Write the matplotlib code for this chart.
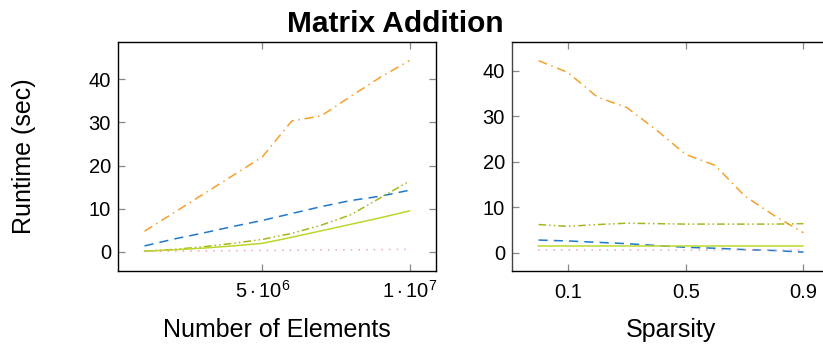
"""Matrix addition runtime vs. size and sparsity."""

import matplotlib

matplotlib.use("Agg")
import matplotlib.pyplot as plt

plt.rcParams["font.family"] = ["Liberation Sans", "DejaVu Sans"]
plt.rcParams["mathtext.fontset"] = "custom"
plt.rcParams["mathtext.rm"] = "Liberation Sans"
plt.rcParams["mathtext.it"] = "Liberation Sans:italic"

# left panel: runtime vs number of elements
n_elements = [1e6, 2e6, 3e6, 4e6, 5e6, 6e6, 7e6, 8e6, 9e6, 1e7]
size_ticks = [5e6, 1e7]
size_tick_labels = [r"$5\cdot10^{6}$", r"$1\cdot10^{7}$"]
size_orange = [4.8, 9.1, 13.4, 17.7, 22.0, 30.3, 31.5, 36.0, 40.4, 44.3]
size_blue = [1.4, 3.0, 4.4, 5.9, 7.3, 8.9, 10.5, 11.9, 12.9, 14.3]
size_olive = [0.2, 0.6, 1.2, 2.0, 2.9, 4.3, 6.2, 8.6, 12.5, 16.4]
size_green = [0.2, 0.5, 0.9, 1.4, 2.0, 3.4, 4.9, 6.4, 7.9, 9.5]
size_pink = [0.15, 0.2, 0.25, 0.3, 0.35, 0.4, 0.45, 0.5, 0.55, 0.6]

# right panel: runtime vs sparsity
sparsity = [0.0, 0.1, 0.2, 0.3, 0.4, 0.5, 0.6, 0.7, 0.8, 0.9]
sparsity_ticks = [0.1, 0.5, 0.9]
sparsity_tick_labels = ["0.1", "0.5", "0.9"]
sp_orange = [42.2, 39.6, 34.2, 31.9, 27.0, 21.6, 19.2, 12.5, 8.2, 4.4]
sp_blue = [2.8, 2.6, 2.3, 2.0, 1.6, 1.2, 1.0, 0.7, 0.5, 0.15]
sp_olive = [6.2, 5.8, 6.2, 6.5, 6.4, 6.3, 6.3, 6.3, 6.3, 6.4]
sp_green = [1.5, 1.5, 1.5, 1.5, 1.5, 1.5, 1.5, 1.5, 1.5, 1.5]
sp_pink = [0.6, 0.6, 0.6, 0.6, 0.6, 0.6, 0.6, 0.6, 0.6, 0.6]

y_ticks = [0, 10, 20, 30, 40]

styles = [
    ("#f5a02a", (0, (6, 3, 1, 3))),
    ("#1f78cc", (0, (6, 4))),
    ("#a9b51e", (0, (5, 2, 1, 2, 1, 2))),
    ("#bcd72a", "-"),
    ("#f2a0b4", (0, (1, 4))),
]


def style_axis(ax, xticks, xlabels, xlabel):
    ax.tick_params(direction="in", length=5, width=0.9, color="#888888",
                   top=True, right=True, labelsize=14.5)
    ax.tick_params(axis="x", pad=19.5)
    ax.tick_params(axis="y", pad=5)
    for spine in ax.spines.values():
        spine.set_linewidth(1.0)
    ax.set_yticks(y_ticks)
    ax.set_xticks(xticks)
    ax.set_xticklabels(xlabels, va="baseline")
    ax.set_xlabel(xlabel, fontsize=18, va="baseline")
    ax.xaxis.set_label_coords(0.5, -0.288)


fig = plt.figure(figsize=(8.23, 3.45), dpi=100)
ax1 = fig.add_axes([0.1434, 0.2145, 0.3864, 0.6638])
ax2 = fig.add_axes([0.6221, 0.2145, 0.3864, 0.6638])

left_series = [size_orange, size_blue, size_olive, size_green, size_pink]
for values, (color, ls) in zip(left_series, styles):
    ax1.plot(n_elements, values, color=color, linestyle=ls, linewidth=1.1)
ax1.set_xlim(0.1e6, 1.09e7)
ax1.set_ylim(-4.4, 48.6)
style_axis(ax1, size_ticks, size_tick_labels, "Number of Elements")
ax1.set_ylabel("Runtime (sec)", fontsize=18, va="center")
ax1.yaxis.set_label_coords(-0.296, 0.5)

right_series = [sp_orange, sp_blue, sp_olive, sp_green, sp_pink]
for values, (color, ls) in zip(right_series, styles):
    ax2.plot(sparsity, values, color=color, linestyle=ls, linewidth=1.1)
ax2.set_xlim(-0.09, 0.99)
ax2.set_ylim(-4.0, 46.3)
style_axis(ax2, sparsity_ticks, sparsity_tick_labels, "Sparsity")
ax2.spines["left"].set_color("#444444")

fig.text(0.4806, 1 - 31.7 / 345, "Matrix Addition", fontsize=21.5,
         fontweight="bold", ha="center", va="baseline")
fig.savefig("out.png", dpi=100)
